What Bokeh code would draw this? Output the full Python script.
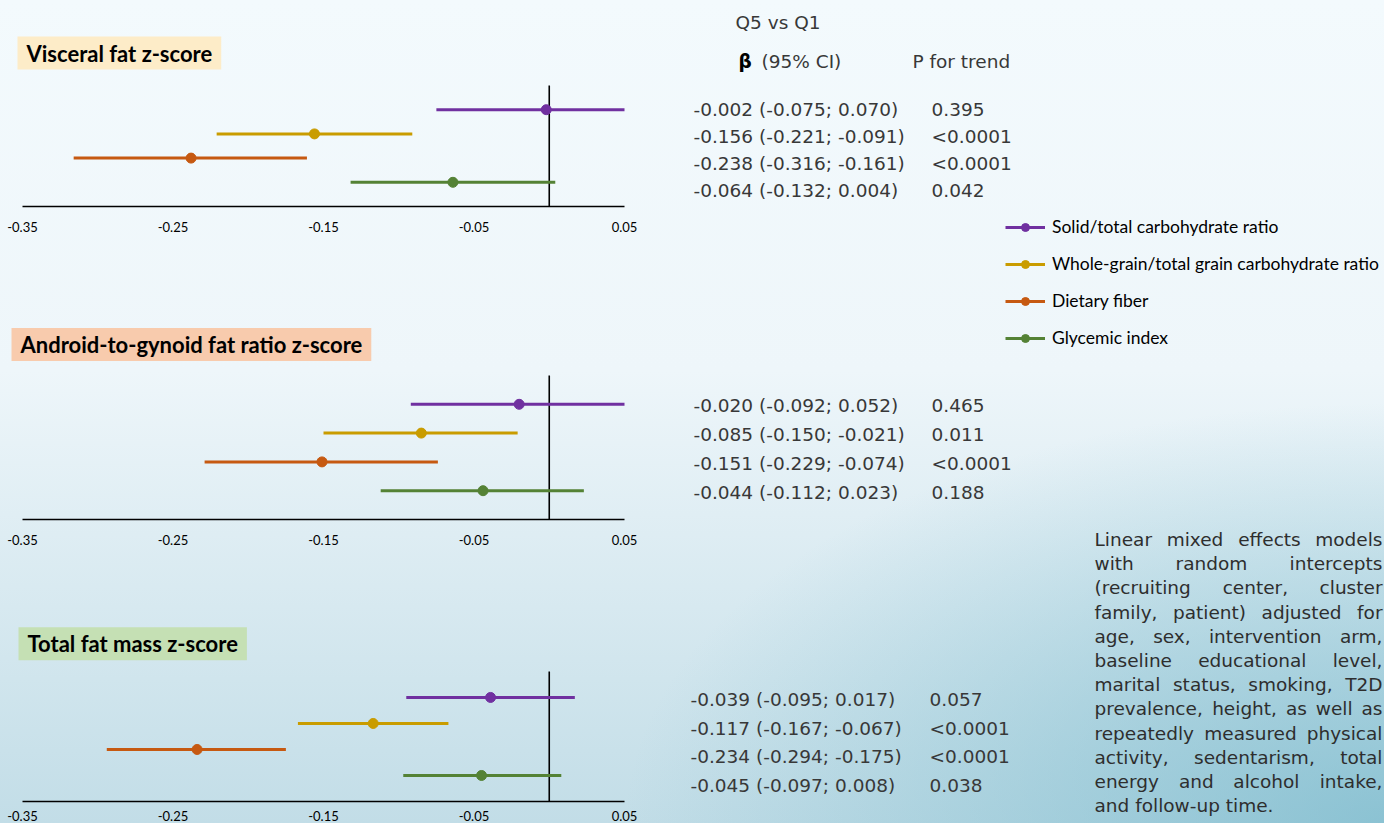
from bokeh.plotting import figure
from bokeh.layouts import row, column
from bokeh.models import (Range1d, FixedTicker, Label, Legend, LegendItem,
                          ColumnDataSource)
from bokeh.core.properties import value
from bokeh.embed import file_html
from bokeh.resources import INLINE

# ---------------- data ----------------
categories = ["Solid/total carbohydrate ratio",
              "Whole-grain/total grain carbohydrate ratio",
              "Dietary fiber",
              "Glycemic index"]
colors = ["#7030a0", "#c99c00", "#c65911", "#548235"]

tick_values = [-0.35, -0.25, -0.15, -0.05, 0.05]
tick_labels = ["-0.35", "-0.25", "-0.15", "-0.05", "0.05"]

visceral_beta = [-0.002, -0.156, -0.238, -0.064]
visceral_lo = [-0.075, -0.221, -0.316, -0.132]
visceral_hi = [0.070, -0.091, -0.161, 0.004]
visceral_p = ["0.395", "<0.0001", "<0.0001", "0.042"]

android_beta = [-0.020, -0.085, -0.151, -0.044]
android_lo = [-0.092, -0.150, -0.229, -0.112]
android_hi = [0.052, -0.021, -0.074, 0.023]
android_p = ["0.465", "0.011", "<0.0001", "0.188"]

total_beta = [-0.039, -0.117, -0.234, -0.045]
total_lo = [-0.095, -0.167, -0.294, -0.097]
total_hi = [0.017, -0.067, -0.175, 0.008]
total_p = ["0.057", "<0.0001", "<0.0001", "0.038"]

titles = ["Visceral fat z-score", "Android-to-gynoid fat ratio z-score",
          "Total fat mass z-score"]
title_fills = ["#fdecc8", "#f8cbad", "#c5e0b4"]

header_q = "Q5 vs Q1"
header_beta = "β"
header_ci = "(95% CI)"
header_p = "P for trend"

note_lines = ["Linear mixed effects models",
              "with random intercepts",
              "(recruiting center, cluster",
              "family, patient) adjusted for",
              "age, sex, intervention arm,",
              "baseline educational level,",
              "marital status, smoking, T2D",
              "prevalence, height, as well as",
              "repeatedly measured physical",
              "activity, sedentarism, total",
              "energy and alcohol intake,",
              "and follow-up time."]

# ---------------- forest panels ----------------
X0, X1 = -0.35, 0.05
FIG_W = 650
AX_L = 22          # pixel where X0 sits
AX_W = 602         # pixel length of X0..X1
PPX = (X1 - X0) / AX_W


def clip(v):
    return max(X0, min(X1, v))


def forest(title, fill, beta, lo, hi, height, axis_px, top_px, standoff,
           box_x_px, box_y_px):
    n = len(beta)
    ppu = (axis_px - top_px) / (n + 1)          # pixels per y unit
    p = figure(width=FIG_W, height=height,
               x_range=Range1d(X0 - AX_L * PPX, X0 + (FIG_W - AX_L) * PPX),
               y_range=Range1d(0, axis_px / ppu), output_backend="svg",
               toolbar_location=None, y_axis_location=None,
               min_border_left=0, min_border_right=0,
               min_border_top=0, min_border_bottom=height - axis_px)
    p.background_fill_alpha = 0
    p.border_fill_alpha = 0
    p.outline_line_color = None
    p.xgrid.visible = False
    p.ygrid.visible = False

    ax = p.xaxis[0]
    ax.bounds = (X0, X1)
    ax.ticker = FixedTicker(ticks=tick_values)
    ax.major_label_overrides = {v: l for v, l in zip(tick_values, tick_labels)}
    ax.axis_line_color = "black"
    ax.axis_line_width = 1.6
    ax.major_tick_line_color = None
    ax.minor_tick_line_color = None
    ax.major_label_standoff = standoff
    ax.major_label_text_font = "Lato"
    ax.major_label_text_font_size = "13px"
    ax.major_label_text_color = "black"

    # reference line at zero
    p.segment(x0=[0], y0=[0], x1=[0], y1=[n + 1], line_color="black", line_width=1.6)

    src = ColumnDataSource(dict(beta=beta,
                                lo=[clip(v) for v in lo], hi=[clip(v) for v in hi],
                                y=[n - i for i in range(n)], color=colors))
    p.segment(x0="lo", y0="y", x1="hi", y1="y", source=src, line_color="color",
              line_width=3)
    p.scatter(x="beta", y="y", source=src, size=10, color="color")

    lbl = Label(x=X0 + (box_x_px - AX_L) * PPX,
                y=(axis_px - box_y_px) / ppu,
                text=title, text_font="Lato", text_font_style="bold",
                text_font_size="22px", text_color="black",
                text_baseline="middle", text_align="left",
                background_fill_color=fill, padding=(9, 3))
    p.add_layout(lbl)
    return p


f1 = forest(titles[0], title_fills[0], visceral_beta, visceral_lo, visceral_hi,
            300, 206, 85, 9, 17, 52.5)
f2 = forest(titles[1], title_fills[1], android_beta, android_lo, android_hi,
            300, 219, 75, 9, 11, 44)
f3 = forest(titles[2], title_fills[2], total_beta, total_lo, total_hi,
            223, 204, 72, 3, 18, 44)

# ---------------- right side: table, legend, note ----------------
RX = 650
RW, RH = 734, 823
r = figure(width=RW, height=RH, x_range=Range1d(RX, RX + RW), y_range=Range1d(RH, 0),
           output_backend="svg", toolbar_location=None,
           x_axis_location=None, y_axis_location=None,
           min_border_left=0, min_border_right=0, min_border_top=0, min_border_bottom=0)
r.background_fill_alpha = 0
r.border_fill_alpha = 0
r.outline_line_color = None
r.xgrid.visible = False
r.ygrid.visible = False

TFONT = value("DejaVu Sans")
TSIZE = "18.5px"
TCOL = "#383838"

r.text(x=[735], y=[22], text=[header_q], text_font=TFONT, text_font_size=TSIZE,
       text_color=TCOL, text_baseline="middle")
r.text(x=[738], y=[61], text=[header_beta], text_font=TFONT, text_font_size=TSIZE,
       text_font_style="bold", text_color="black", text_baseline="middle")
r.text(x=[761], y=[61], text=[header_ci], text_font=TFONT, text_font_size=TSIZE,
       text_color=TCOL, text_baseline="middle")
r.text(x=[912], y=[61], text=[header_p], text_font=TFONT, text_font_size=TSIZE,
       text_color=TCOL, text_baseline="middle")


def table(beta, lo, hi, pv, x_est, x_p, y0, dy):
    n = len(beta)
    est = [f"{b:.3f} ({l:.3f}; {h:.3f})" for b, l, h in zip(beta, lo, hi)]
    ys = [y0 + dy * i for i in range(n)]
    r.text(x=[x_est] * n, y=ys, text=est, text_font=TFONT, text_font_size=TSIZE,
           text_color=TCOL, text_baseline="middle")
    r.text(x=[x_p] * n, y=ys, text=pv, text_font=TFONT, text_font_size=TSIZE,
           text_color=TCOL, text_baseline="middle")


table(visceral_beta, visceral_lo, visceral_hi, visceral_p, 693, 931, 109, 27)
table(android_beta, android_lo, android_hi, android_p, 693, 931, 405, 29)
table(total_beta, total_lo, total_hi, total_p, 690, 929, 699, 28.7)

# legend
nan = float("nan")
items = []
for cat, c in zip(categories, colors):
    lr = r.line(x=[nan, nan], y=[nan, nan], line_color=c, line_width=3)
    sr = r.scatter(x=[nan], y=[nan], size=10, color=c)
    items.append(LegendItem(label=cat, renderers=[lr, sr]))
legend = Legend(items=items, location=(1005 - RX, RH - 348), glyph_width=40,
                glyph_height=20, label_height=20, spacing=16, padding=0, margin=0,
                border_line_color=None, background_fill_alpha=0, label_standoff=7,
                label_text_font="Lato", label_text_font_size="17.5px",
                label_text_color="black")
r.add_layout(legend)

# justified note
CW = {' ': .318, 'a': .613, 'b': .635, 'c': .550, 'd': .635, 'e': .615, 'f': .352,
      'g': .635, 'h': .634, 'i': .278, 'j': .278, 'k': .579, 'l': .278, 'm': .974,
      'n': .634, 'o': .612, 'p': .635, 'q': .635, 'r': .411, 's': .521, 't': .392,
      'u': .634, 'v': .592, 'w': .818, 'x': .592, 'y': .592, 'z': .525, ',': .318,
      '.': .318, '(': .390, ')': .390, '-': .361, 'L': .557, 'T': .611, '2': .636,
      'D': .770}
NOTE_PX = 18.5
NOTE_X0, NOTE_X1, NOTE_Y0, NOTE_DY = 1094, 1382, 539, 24.2


def tw(s):
    return sum(CW.get(ch, 0.6) for ch in s) * NOTE_PX


firsts, lasts, mids = ([], [], []), ([], [], []), ([], [], [])
for i, line in enumerate(note_lines):
    y = NOTE_Y0 + NOTE_DY * i
    words = line.split(" ")
    if i == len(note_lines) - 1:
        firsts[0].append(NOTE_X0); firsts[1].append(y); firsts[2].append(line)
        continue
    widths = [tw(w) for w in words]
    gap = (NOTE_X1 - NOTE_X0 - sum(widths)) / (len(words) - 1)
    x = NOTE_X0
    for j, (w, wd) in enumerate(zip(words, widths)):
        if j == 0:
            firsts[0].append(x); firsts[1].append(y); firsts[2].append(w)
        elif j == len(words) - 1:
            lasts[0].append(NOTE_X1); lasts[1].append(y); lasts[2].append(w)
        else:
            mids[0].append(x + wd / 2); mids[1].append(y); mids[2].append(w)
        x += wd + gap

for grp, al in ((firsts, "left"), (lasts, "right"), (mids, "center")):
    r.text(x=grp[0], y=grp[1], text=grp[2], text_font=TFONT,
           text_font_size=f"{NOTE_PX}px", text_color="#2e2e2e",
           text_baseline="middle", text_align=al)

bg = ("radial-gradient(ellipse 760px 420px at 100% 100%, rgba(110,180,200,0.65) 0%, "
      "rgba(110,180,200,0) 100%), "
      "linear-gradient(180deg, #f3fafd 0%, #eef6fa 45%, #c2dde7 100%)")
root = row(column(f1, f2, f3), r, styles={"background": bg})

open("out.html", "w").write(file_html(root, INLINE))
